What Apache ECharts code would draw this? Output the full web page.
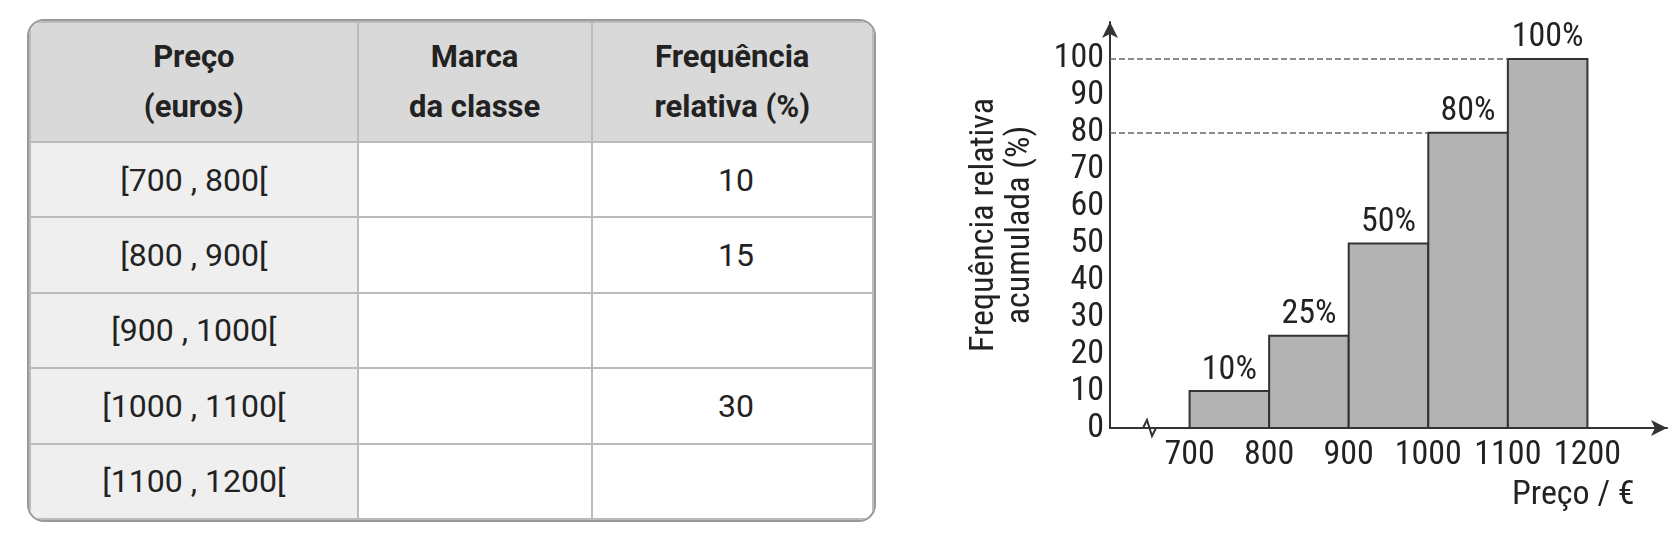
<!DOCTYPE html>
<html><head><meta charset="utf-8">
<script src="https://cdn.jsdelivr.net/npm/echarts@6/dist/echarts.min.js"></script>
<style>
body{margin:0;background:#fff;width:1678px;height:534px;position:relative;font-family:Roboto,"Noto Sans",sans-serif}
#tbl{position:absolute;left:27px;top:19px;width:849px;height:503px;border:2px solid #999;border-radius:17px;overflow:hidden;box-sizing:border-box}
table{border-collapse:collapse;width:100%;height:100%}
td,th{border:2px solid #bbb;text-align:center;font-size:32px;color:#222}
th{background:#d9d9d9;font-weight:bold;font-size:31px;height:116px;line-height:1.6}
td.c1{background:#efefef}
td.c3{text-align:right;padding-right:118px}
#chart{position:absolute;left:0;top:0;width:1678px;height:534px}
</style></head><body>
<div id="tbl"><table id="t"></table></div>
<div id="chart"></div>
<script>
const headers=["Preço<br>(euros)","Marca<br>da classe","Frequência<br>relativa (%)"];
const classes=["[700 ,  800[","[800 ,  900[","[900 ,  1000[","[1000 ,  1100[","[1100 ,  1200["];
const relFreq=["10","15","","30",""];
const binStart=[700,800,900,1000,1100];
const binEnd=[800,900,1000,1100,1200];
const cumFreq=[10,25,50,80,100];
const dashedAt=[80,100];
const xTicks=[700,800,900,1000,1100,1200];

let h='<tr>'+headers.map((x,i)=>`<th style="width:${[332,235,282][i]}px">${x}</th>`).join('')+'</tr>';
classes.forEach((c,i)=>{h+=`<tr><td class="c1">${c}</td><td></td><td class="c3">${relFreq[i]}</td></tr>`;});
document.getElementById('t').innerHTML=h;

const F='"Liberation Sans Narrow","Roboto Condensed","DejaVu Sans Condensed",sans-serif';
const ch=echarts.init(document.getElementById('chart'));
const bars=binStart.map((s,i)=>[s,binEnd[i],cumFreq[i]]);
ch.setOption({
  animation:false,
  grid:{left:1110,top:22,width:557,height:406},
  xAxis:{type:'value',min:600,max:1300,interval:100,
    axisLine:{lineStyle:{color:'#333',width:2},symbol:['none','arrow'],symbolSize:[12,16]},
    axisTick:{show:false},splitLine:{show:false},
    axisLabel:{fontFamily:F,fontSize:34,color:'#222',margin:10,
      formatter:v=>xTicks.includes(v)?String(v):''}},
  yAxis:{type:'value',min:0,max:110,interval:10,
    name:'Frequência relativa\nacumulada (%)',nameLocation:'middle',nameGap:72,nameRotate:90,
    nameTextStyle:{fontFamily:F,fontSize:34,color:'#222',lineHeight:36},
    axisLine:{lineStyle:{color:'#333',width:2},symbol:['none','arrow'],symbolSize:[12,16]},
    axisTick:{show:false},splitLine:{show:false},
    axisLabel:{fontFamily:F,fontSize:34,color:'#222',margin:6,
      formatter:v=>v===110?'':String(v)}},
  graphic:[
    {type:'text',left:1512,top:478,style:{text:'Preço / €',font:'34px '+F,fill:'#222'}},
    {type:'polyline',shape:{points:[[1143,428],[1147,420],[1152,436],[1156,428]]},style:{stroke:'#333',lineWidth:2,fill:null}}
  ],
  series:[{
    type:'custom',data:bars,
    renderItem:(p,api)=>{
      const a=api.coord([api.value(0),api.value(2)]);
      const b=api.coord([api.value(1),0]);
      return {type:'group',children:[
        {type:'rect',shape:{x:a[0],y:a[1],width:b[0]-a[0],height:b[1]-a[1]},
          style:{fill:'#b3b3b3',stroke:'#333',lineWidth:2}},
        {type:'text',style:{text:api.value(2)+'%',x:(a[0]+b[0])/2,y:a[1]-4,
          textAlign:'center',textVerticalAlign:'bottom',font:'34px '+F,fill:'#222'}}
      ]};
    },
    markLine:{silent:true,symbol:'none',label:{show:false},
      lineStyle:{type:'dashed',color:'#666',width:1.5},
      data:dashedAt.map(v=>[{coord:[600,v]},{coord:[binStart[cumFreq.indexOf(v)],v]}])}
  }]
});
</script></body></html>
